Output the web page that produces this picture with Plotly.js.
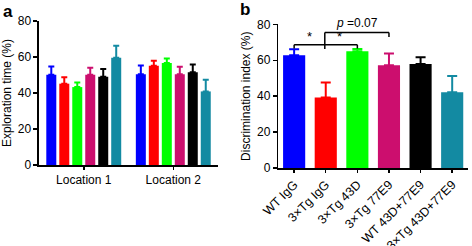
<!DOCTYPE html>
<html>
<head>
<meta charset="utf-8">
<script src="https://cdn.plot.ly/plotly-3.0.1.min.js"></script>
<style>html,body{margin:0;padding:0;background:#fff}#chart{width:472px;height:246px}</style>
</head>
<body>
<div id="chart"></div>
<script>
// Panel a data
const locations = ['Location 1', 'Location 2'];
const groupNames = ['WT IgG', '3×Tg IgG', '3×Tg 43D', '3×Tg 77E9', 'WT 43D+77E9', '3×Tg 43D+77E9'];
const groupColors = ['#0000ff', '#ff0000', '#00ff00', '#cc0e6e', '#000000', '#138aa2'];
const wtIgG_a = [50.2, 50.4];
const tgIgG_a = [45.2, 55.2];
const tg43D_a = [43.3, 56.7];
const tg77E9_a = [50.2, 50.5];
const wtCombo_a = [49.0, 51.6];
const tgCombo_a = [59.6, 40.9];
const wtIgG_aErr = [4.6, 4.9];
const tgIgG_aErr = [3.5, 2.8];
const tg43D_aErr = [2.6, 2.5];
const tg77E9_aErr = [3.8, 4.1];
const wtCombo_aErr = [4.3, 4.3];
const tgCombo_aErr = [6.7, 6.5];

// Panel b data
const discrimination = [62.8, 39.3, 65.0, 57.2, 57.9, 42.2];
const discriminationErr = [3.3, 8.3, 1.3, 6.5, 3.8, 9.1];

const aValues = [wtIgG_a, tgIgG_a, tg43D_a, tg77E9_a, wtCombo_a, tgCombo_a];
const aErrs = [wtIgG_aErr, tgIgG_aErr, tg43D_aErr, tg77E9_aErr, wtCombo_aErr, tgCombo_aErr];

const font = 'Liberation Sans, Arial, sans-serif';
const traces = [];
aValues.forEach((vals, i) => {
  traces.push({
    type: 'bar', x: locations, y: vals, name: groupNames[i],
    xaxis: 'x', yaxis: 'y',
    marker: {color: groupColors[i]},
    error_y: {type: 'data', symmetric: false, array: aErrs[i], arrayminus: vals.map(() => 0),
              color: groupColors[i], thickness: 2, width: 3},
    showlegend: false, hoverinfo: 'skip'
  });
});

// panel b: one trace per bar so each error bar takes its bar's colour
groupNames.forEach((g, i) => {
  traces.push({
    type: 'bar', x: [g], y: [discrimination[i]], xaxis: 'x2', yaxis: 'y2', width: 0.7,
    marker: {color: groupColors[i]},
    error_y: {type: 'data', symmetric: false, array: [discriminationErr[i]], arrayminus: [0],
              color: groupColors[i], thickness: 2, width: 5},
    showlegend: false, hoverinfo: 'skip'
  });
});

// significance brackets (placed from data: top of error bars)
const tops = discrimination.map((v, i) => v + discriminationErr[i]);
const lowY = Math.max(tops[0], tops[2]) + 2.4;
const highY = lowY + 6.7;
const line = {color: '#000', width: 1.5};
const shapes = [
  {type: 'line', xref: 'x2', yref: 'y2', x0: 0, x1: 2, y0: lowY, y1: lowY, line},
  {type: 'line', xref: 'x2', yref: 'y2', x0: 0, x1: 0, y0: lowY, y1: lowY - 2.2, line},
  {type: 'line', xref: 'x2', yref: 'y2', x0: 2, x1: 2, y0: lowY, y1: lowY - 2.2, line},
  {type: 'line', xref: 'x2', yref: 'y2', x0: 0.97, x1: 0.97, y0: lowY, y1: lowY - 2.4, line},
  {type: 'line', xref: 'x2', yref: 'y2', x0: 0.97, x1: 3, y0: highY, y1: highY, line},
  {type: 'line', xref: 'x2', yref: 'y2', x0: 0.97, x1: 0.97, y0: highY, y1: lowY, line},
  {type: 'line', xref: 'x2', yref: 'y2', x0: 3, x1: 3, y0: highY, y1: highY - 2.4, line}
];
const annotations = [
  {xref: 'x2', yref: 'y2', x: 0.5, y: lowY - 0.6, text: '*', showarrow: false, yanchor: 'bottom',
   font: {family: font, size: 13, color: '#000'}},
  {xref: 'x2', yref: 'y2', x: 1.45, y: lowY - 0.6, text: '*', showarrow: false, yanchor: 'bottom',
   font: {family: font, size: 13, color: '#000'}},
  {xref: 'x2', yref: 'y2', x: 2.0, y: highY + 0.2, text: '<i>p</i> =0.07', showarrow: false, yanchor: 'bottom',
   font: {family: font, size: 12, color: '#000'}},
  {xref: 'paper', yref: 'paper', x: 0.003, y: 1.0, xanchor: 'left', yanchor: 'top', text: '<b>a</b>',
   showarrow: false, font: {family: font, size: 17, color: '#000'}},
  {xref: 'paper', yref: 'paper', x: 0.505, y: 1.01, xanchor: 'left', yanchor: 'top', text: '<b>b</b>',
   showarrow: false, font: {family: font, size: 17, color: '#000'}}
];

const yax = {
  range: [0, 80], tickvals: [0, 20, 40, 60, 80], showgrid: false, zeroline: false,
  showline: true, linecolor: '#000', linewidth: 1.5, ticks: 'outside', ticklen: 4, tickwidth: 1.5,
  tickcolor: '#000', tickfont: {family: font, size: 12, color: '#000'}, fixedrange: true
};
const xax = {
  type: 'category', showgrid: false, zeroline: false, showline: true, linecolor: '#000', linewidth: 1.5,
  ticks: 'outside', ticklen: 3, tickwidth: 1.5, tickcolor: '#000',
  tickfont: {family: font, size: 12, color: '#000'}, fixedrange: true
};

const layout = {
  width: 472, height: 246, margin: {l: 0, r: 0, t: 0, b: 0},
  paper_bgcolor: '#fff', plot_bgcolor: '#fff',
  barmode: 'group', bargap: 0.13, bargroupgap: 0.23,
  font: {family: font, color: '#000'},
  xaxis: Object.assign({}, xax, {domain: [0.0826, 0.462], anchor: 'y', range: [-0.5, 1.5]}),
  yaxis: Object.assign({}, yax, {domain: [0.329, 0.9146], anchor: 'x',
    title: {text: 'Exploration time (%)', font: {family: font, size: 12, color: '#000'}, standoff: 4}}),
  xaxis2: Object.assign({}, xax, {domain: [0.5897, 0.9915], anchor: 'y2', range: [-0.5, 5.5], tickangle: -45,
    tickfont: {family: font, size: 12.5, color: '#000'}}),
  yaxis2: Object.assign({}, yax, {domain: [0.317, 0.901], anchor: 'x2',
    title: {text: 'Discrimination index (%)', font: {family: font, size: 12, color: '#000'}, standoff: 4}}),
  shapes, annotations
};

Plotly.newPlot('chart', traces, layout, {displayModeBar: false, staticPlot: true});
</script>
</body>
</html>
